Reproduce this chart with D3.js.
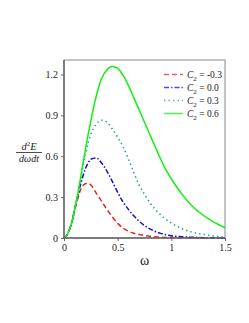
<!DOCTYPE html>
<html><head><meta charset="utf-8">
<script src="https://cdn.jsdelivr.net/npm/d3@7"></script>
<style>body{margin:0;background:#fff}svg{display:block}text{font-family:"Liberation Serif","Times New Roman",serif}</style>
</head><body><svg id="c" width="249" height="323"></svg>
<script>
const omega = [0,0.025,0.05,0.075,0.1,0.125,0.15,0.175,0.2,0.225,0.25,0.3,0.35,0.4,0.45,0.5,0.55,0.6,0.65,0.7,0.75,0.8,0.85,0.9,0.95,1.0,1.1,1.2,1.3,1.4,1.5];
const seriesNeg03 = [0,0.017,0.06,0.12,0.205,0.28,0.345,0.383,0.398,0.40,0.39,0.33,0.27,0.21,0.155,0.108,0.072,0.05,0.035,0.025,0.018,0.012,0.009,0.006,0.004,0.003,0.002,0.001,0,0,0];
const series00 = [0,0.017,0.06,0.12,0.215,0.30,0.38,0.45,0.51,0.55,0.578,0.587,0.55,0.49,0.415,0.335,0.265,0.21,0.163,0.123,0.092,0.067,0.048,0.034,0.024,0.017,0.009,0.005,0.002,0.001,0];
const series03 = [0,0.017,0.06,0.12,0.215,0.30,0.41,0.52,0.62,0.70,0.76,0.835,0.865,0.85,0.80,0.74,0.67,0.58,0.48,0.39,0.32,0.26,0.21,0.17,0.137,0.11,0.068,0.042,0.025,0.014,0.007];
const series06 = [0,0.017,0.06,0.12,0.215,0.31,0.42,0.54,0.65,0.76,0.86,1.04,1.17,1.235,1.258,1.245,1.195,1.12,1.03,0.94,0.85,0.76,0.67,0.58,0.50,0.435,0.32,0.23,0.165,0.115,0.075];
const legendLabels = ["-0.3","0.0","0.3","0.6"];
const xTicks = [0,0.5,1,1.5];
const xTickLabels = ["0","0.5","1","1.5"];
const yTicks = [0,0.3,0.6,0.9,1.2];
const yTickLabels = ["0","0.3","0.6","0.9","1.2"];

const series = [
  {vals: seriesNeg03, color:"#f02020", dash:"5,3"},
  {vals: series00, color:"#1010d0", dash:"5,2,1.5,2"},
  {vals: series03, color:"#20a0a0", dash:"1.5,3"},
  {vals: series06, color:"#10f010", dash:null}
];

const svg = d3.select("#c");
const L=64, R=225, T=60, B=238;
const x = d3.scaleLinear().domain([0,1.5]).range([L,R]);
const y = d3.scaleLinear().domain([0,1.2]).range([B,74.5]);

// frame
svg.append("rect").attr("x",L).attr("y",T).attr("width",R-L).attr("height",B-T)
  .attr("fill","none").attr("stroke","#888").attr("stroke-width",1);

const line = d3.line().x((d,i)=>x(omega[i])).y(d=>y(d)).curve(d3.curveMonotoneX);
const g = svg.append("g");
series.forEach(s=>{
  g.append("path").datum(s.vals).attr("d",line).attr("fill","none")
   .attr("stroke",s.color).attr("stroke-width",1.5)
   .attr("stroke-dasharray",s.dash);
});

// axes
const xa = svg.append("g").attr("transform",`translate(0,${B})`)
  .call(d3.axisBottom(x).tickValues(xTicks).tickFormat((d,i)=>xTickLabels[i]).tickSize(3).tickSizeOuter(0).tickPadding(3));
const ya = svg.append("g").attr("transform",`translate(${L},0)`)
  .call(d3.axisLeft(y).tickValues(yTicks).tickFormat((d,i)=>yTickLabels[i]).tickSize(3).tickSizeOuter(0).tickPadding(3));
[xa,ya].forEach(a=>{
  a.select(".domain").attr("stroke","#666").attr("stroke-width",1.5);
  a.selectAll(".tick line").attr("stroke","#666");
  a.selectAll("text").attr("font-family","Liberation Serif, serif").attr("font-size",10).attr("fill","#222");
});
ya.select(".domain").attr("d",`M0,${B}V${T}`);
xa.select(".domain").attr("d",`M${L},0H${R}`);

// x label
svg.append("text").attr("x",(L+R)/2).attr("y",265).attr("text-anchor","middle")
  .attr("font-size",14).attr("fill","#222").text("ω");

// y label fraction
const yl = svg.append("g");
const num = yl.append("text").attr("x",29).attr("y",150).attr("text-anchor","middle")
  .attr("font-size",10.5).attr("font-style","italic").attr("fill","#222");
num.append("tspan").text("d");
num.append("tspan").attr("dy",-4).attr("font-size",7).attr("font-style","normal").text("2");
num.append("tspan").attr("dy",4).text("E");
yl.append("line").attr("x1",16).attr("x2",42).attr("y1",152.5).attr("y2",152.5).attr("stroke","#222").attr("stroke-width",0.8);
yl.append("text").attr("x",29).attr("y",162).attr("text-anchor","middle")
  .attr("font-size",10).attr("font-style","italic").attr("fill","#222").text("dωdt");

// legend
const lg = svg.append("g");
series.forEach((s,i)=>{
  const yy = 74.5 + i*13;
  lg.append("line").attr("x1",164).attr("x2",183).attr("y1",yy).attr("y2",yy)
    .attr("stroke",s.color).attr("stroke-width",1.5).attr("stroke-dasharray",s.dash).attr("opacity",0.75);
  const t = lg.append("text").attr("x",187).attr("y",yy+3.5).attr("font-size",9.5).attr("fill","#222");
  t.append("tspan").attr("font-style","italic").text("C");
  t.append("tspan").attr("dy",2.5).attr("font-size",7).text("2");
  t.append("tspan").attr("dy",-2.5).text(" = " + legendLabels[i]);
});
</script></body></html>
